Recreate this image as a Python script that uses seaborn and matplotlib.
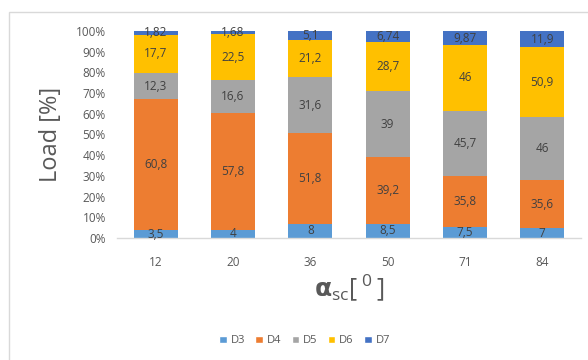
import matplotlib
matplotlib.use("Agg")
import matplotlib.pyplot as plt
from matplotlib.patches import Rectangle, Patch
import numpy as np
import pandas as pd
import seaborn as sns

# Scan angle categories and load per group (raw values, shown normalised to 100 %)
angles = ["12", "20", "36", "50", "71", "84"]
series = ["D3", "D4", "D5", "D6", "D7"]
d3 = [3.5, 4, 8, 8.5, 7.5, 7]
d4 = [60.8, 57.8, 51.8, 39.2, 35.8, 35.6]
d5 = [12.3, 16.6, 31.6, 39, 45.7, 46]
d6 = [17.7, 22.5, 21.2, 28.7, 46, 50.9]
d7 = [1.82, 1.68, 5.1, 6.74, 9.87, 11.9]
labels = {
    "D3": ["3,5", "4", "8", "8,5", "7,5", "7"],
    "D4": ["60,8", "57,8", "51,8", "39,2", "35,8", "35,6"],
    "D5": ["12,3", "16,6", "31,6", "39", "45,7", "46"],
    "D6": ["17,7", "22,5", "21,2", "28,7", "46", "50,9"],
    "D7": ["1,82", "1,68", "5,1", "6,74", "9,87", "11,9"],
}
colors = {"D3": "#5B9BD5", "D4": "#ED7D31", "D5": "#A5A5A5",
          "D6": "#FFC000", "D7": "#4472C4"}

raw = pd.DataFrame({"D3": d3, "D4": d4, "D5": d5, "D6": d6, "D7": d7}, index=angles)
pct = raw.div(raw.sum(axis=1), axis=0) * 100
cum = pct.cumsum(axis=1)

sns.set_theme(style="white")
plt.rcParams["font.family"] = ["Open Sans", "DejaVu Sans"]
plt.rcParams["mathtext.fontset"] = "custom"
plt.rcParams["mathtext.rm"] = "Open Sans"
plt.rcParams["mathtext.bf"] = "DejaVu Sans:bold"

fig = plt.figure(figsize=(5.88, 3.6), dpi=100)
ax = fig.add_axes([0.199, 0.339, 0.789, 0.575])

# stacked bars: draw cumulative totals from the top series down
for s in reversed(series):
    df = pd.DataFrame({"angle": angles, "value": cum[s].values})
    sns.barplot(data=df, x="angle", y="value", color=colors[s], width=0.57,
                saturation=1, ax=ax, order=angles, linewidth=0)

for s in series:
    mids = cum[s].values - pct[s].values / 2
    for i, (m, t) in enumerate(zip(mids, labels[s])):
        ax.text(i, m, t, ha="center", va="center", fontsize=8.5, color="#404040")

ax.set_xlim(-0.5, 5.5)
ax.set_ylim(0, 100)
ax.set_yticks(np.arange(0, 101, 10))
ax.set_yticklabels([f"{v}%" for v in range(0, 101, 10)])
ax.tick_params(axis="both", length=0, labelsize=8.5, colors="#595959", pad=8)
ax.tick_params(axis="x", pad=13)
for sp in ["top", "right", "left"]:
    ax.spines[sp].set_visible(False)
ax.spines["bottom"].set_color("#D9D9D9")
ax.spines["bottom"].set_linewidth(1)

ax.set_ylabel("Load [%]", fontsize=17, color="#595959", labelpad=9)
ax.set_xlabel(r"$\mathbf{\alpha}_{\mathrm{sc}}\mathrm{[\,^{0}\,]}$", fontsize=18,
              color="#595959", labelpad=2)

handles = [Patch(facecolor=colors[s], label=s) for s in series]
fig.legend(handles=handles, loc="center", bbox_to_anchor=(0.518, 0.053), ncol=5,
           frameon=False, fontsize=8, handlelength=0.7, handleheight=0.7,
           handletextpad=0.35, columnspacing=0.9, labelcolor="#595959")

# chart frame
fig.patches.append(Rectangle((9 / 588, -0.1), 1.1, 1.1 - 12 / 360,
                             transform=fig.transFigure, fill=False,
                             edgecolor="#D9D9D9", linewidth=1))

fig.savefig("out.png", dpi=100)
